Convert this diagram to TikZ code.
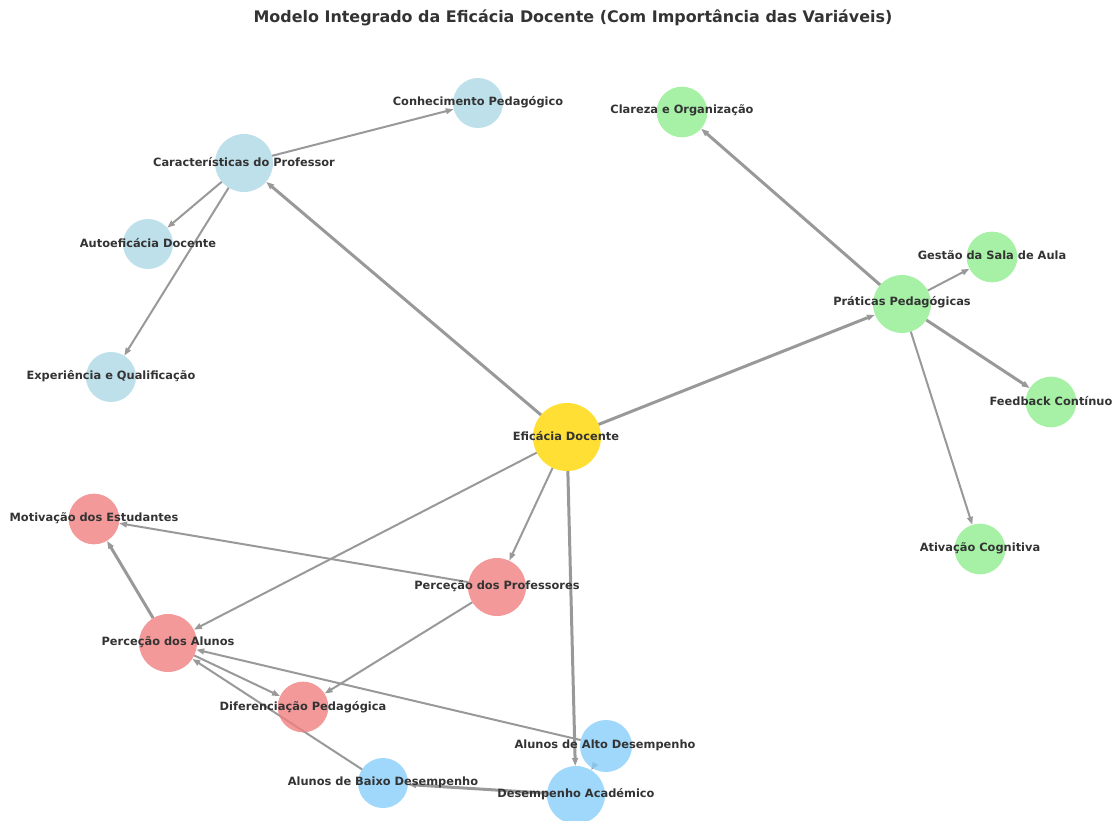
\documentclass[tikz,border=0pt]{standalone}
\usepackage{fontspec}
\setmainfont{DejaVu Sans}
\usetikzlibrary{arrows.meta}
\usetikzlibrary{backgrounds}

\begin{document}
\begin{tikzpicture}[x=0.75pt, y=-0.75pt]
\definecolor{corecolor}{HTML}{FFD700}
\definecolor{teachcolor}{HTML}{ADD8E6}
\definecolor{practcolor}{HTML}{90EE90}
\definecolor{perccolor}{HTML}{F08080}
\definecolor{perfcolor}{HTML}{87CEFA}
\definecolor{edgegray}{HTML}{999999}
\definecolor{labelgray}{HTML}{333333}
\tikzstyle{vertex}=[circle, draw=none, fill opacity=0.8, inner sep=0pt, outer sep=0pt]
\tikzstyle{vlabel}=[inner sep=0pt, text=labelgray, font=\bfseries\fontsize{8.55}{10}\selectfont]
\tikzstyle{edge}=[draw=edgegray, line width=1.5pt, -{Triangle[length=6pt,width=4.2pt]}]
\tikzstyle{strong-edge}=[edge, line width=2.25pt]
\useasboundingbox (0,0) rectangle (1115,821);

\node[inner sep=0pt, text=labelgray, font=\bfseries\fontsize{11.95}{14}\selectfont] (title) at (573,18)
  {Modelo Integrado da Eficácia Docente (Com Importância das Variáveis)};

% nucleo
\node[vertex, fill=corecolor, minimum size=51pt] (Ef) at (567,437) {};
% caracteristicas do professor
\node[vertex, fill=teachcolor, minimum size=43.5pt] (Cp) at (244,163) {};
\node[vertex, fill=teachcolor, minimum size=37.5pt] (Kp) at (478,103) {};
\node[vertex, fill=teachcolor, minimum size=37.5pt] (Ad) at (148,244) {};
\node[vertex, fill=teachcolor, minimum size=37.5pt] (Eq) at (111,377) {};
% praticas pedagogicas
\node[vertex, fill=practcolor, minimum size=43.5pt] (Pp) at (902,304) {};
\node[vertex, fill=practcolor, minimum size=38pt] (Co) at (682,112) {};
\node[vertex, fill=practcolor, minimum size=38pt] (Gs) at (992,257) {};
\node[vertex, fill=practcolor, minimum size=38pt] (Fc) at (1051,402) {};
\node[vertex, fill=practcolor, minimum size=38pt] (Ac) at (980,549) {};
% percecoes
\node[vertex, fill=perccolor, minimum size=38pt] (Me) at (94,519) {};
\node[vertex, fill=perccolor, minimum size=43.5pt] (Pr) at (497,587) {};
\node[vertex, fill=perccolor, minimum size=43.5pt] (Pa) at (168,643) {};
\node[vertex, fill=perccolor, minimum size=38pt] (Dp) at (303,707) {};
% desempenho
\node[vertex, fill=perfcolor, minimum size=39pt] (Aa) at (606,746) {};
\node[vertex, fill=perfcolor, minimum size=37.5pt] (Ab) at (383,783) {};
\node[vertex, fill=perfcolor, minimum size=43.5pt] (Da) at (576,795) {};

\node[vlabel] (Ef-l) at (566,436) {Eficácia Docente};
\node[vlabel] (Cp-l) at (244,162) {Características do Professor};
\node[vlabel] (Kp-l) at (478,102) {Conhecimento Pedagógico};
\node[vlabel] (Ad-l) at (148,243) {Autoeficácia Docente};
\node[vlabel] (Eq-l) at (111,376) {Experiência e Qualificação};
\node[vlabel] (Pp-l) at (902,302) {Práticas Pedagógicas};
\node[vlabel] (Co-l) at (682,110) {Clareza e Organização};
\node[vlabel] (Gs-l) at (992,255) {Gestão da Sala de Aula};
\node[vlabel] (Fc-l) at (1051,401) {Feedback Contínuo};
\node[vlabel] (Ac-l) at (980,548) {Ativação Cognitiva};
\node[vlabel] (Me-l) at (94,518) {Motivação dos Estudantes};
\node[vlabel] (Pr-l) at (497,586) {Perceção dos Professores};
\node[vlabel] (Pa-l) at (168,642) {Perceção dos Alunos};
\node[vlabel] (Dp-l) at (303,707) {Diferenciação Pedagógica};
\node[vlabel] (Aa-l) at (605,745) {Alunos de Alto Desempenho};
\node[vlabel] (Ab-l) at (383,782) {Alunos de Baixo Desempenho};
\node[vlabel] (Da-l) at (576,794) {Desempenho Académico};

\begin{pgfonlayer}{background}
\draw[style=strong-edge] (Ef) -- (Cp);
\draw[style=strong-edge] (Ef) -- (Pp);
\draw[style=strong-edge] (Ef) -- (Da);
\draw[style=edge] (Ef) -- (Pa);
\draw[style=edge] (Ef) -- (Pr);
\draw[style=edge] (Cp) -- (Kp);
\draw[style=edge] (Cp) -- (Ad);
\draw[style=edge] (Cp) -- (Eq);
\draw[style=strong-edge] (Pp) -- (Co);
\draw[style=edge] (Pp) -- (Gs);
\draw[style=strong-edge] (Pp) -- (Fc);
\draw[style=edge] (Pp) -- (Ac);
\draw[style=edge] (Pr) -- (Me);
\draw[style=edge] (Pr) -- (Dp);
\draw[style=strong-edge] (Pa) -- (Me);
\draw[style=edge] (Pa) -- (Dp);
\draw[style=edge] (Aa) -- (Pa);
\draw[style=edge] (Ab) -- (Pa);
\draw[style=edge] (Aa) -- (Da);
\draw[style=strong-edge] (Da) -- (Ab);
\end{pgfonlayer}

\end{tikzpicture}
\end{document}
